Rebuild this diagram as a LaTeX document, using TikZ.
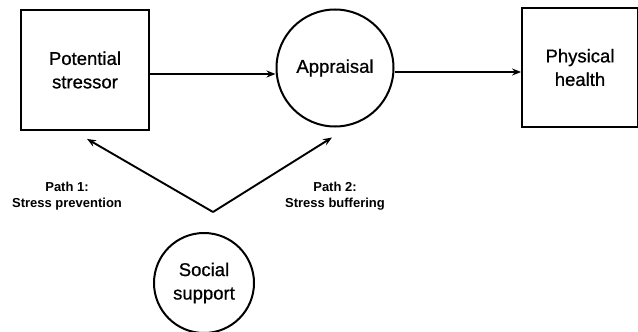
\documentclass[tikz,border=0pt]{standalone}
\usepackage{fontspec}
\setmainfont{Liberation Sans}
\newfontfamily\inkfont[FakeBold=0.8]{Liberation Sans}
\usetikzlibrary{arrows.meta,calc}
\begin{document}
\begin{tikzpicture}[x=1pt,y=-1pt,
  box/.style={draw,line width=1.8pt,minimum width=128pt,minimum height=120pt,
    inner sep=0pt,align=center,font=\inkfont\fontsize{18.5}{23.5}\selectfont},
  ring/.style={draw,circle,line width=2pt,inner sep=0pt,align=center,
    font=\inkfont\fontsize{18.5}{23.5}\selectfont},
  arr/.style={line width=1.9pt,-{Stealth[length=9pt,width=7pt]}},
  pathlabel/.style={align=center,font=\bfseries\fontsize{13}{15.5}\selectfont}]
\useasboundingbox (0,0) rectangle (638,332);
% the three stages of the stress pathway
\node[box] (stressor) at (85,70) {Potential\\stressor};
\node[ring,minimum size=117pt] (appraisal) at (335,68) {Appraisal};
\node[box,minimum width=116pt,minimum height=119pt] (health) at (580,67.5) {Physical\\health};
% the moderating factor below
\node[ring,minimum size=100pt] (support) at (204,283) {Social\\support};
\coordinate (fork) at ($(support.north)+(9,-20)$);
% main sequence
\draw[arr] ([yshift=-4pt]stressor.east) -- ([yshift=-4pt]stressor.east -| appraisal.west);
\draw[arr] ([yshift=-4pt]appraisal.east) -- ([yshift=-4pt]appraisal.east -| health.west);
% the two routes through which support acts
\draw[arr] (fork) -- ($(stressor.south)+(2,8)$);
\draw[arr] (fork) -- ($(appraisal.south)+(-3,10)$);
\node[pathlabel] (p1) at (67,196) {Path 1:\\Stress prevention};
\node[pathlabel] (p2) at (335,196) {Path 2:\\Stress buffering};
\end{tikzpicture}
\end{document}
